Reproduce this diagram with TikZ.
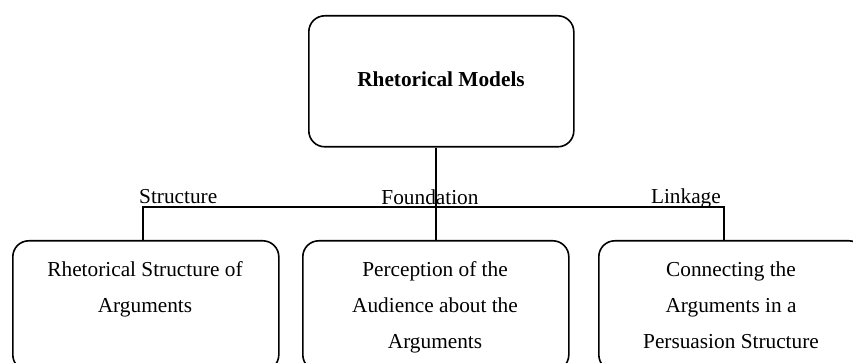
\documentclass[tikz,border=0pt]{standalone}
\usepackage{fontspec}
\setmainfont{Liberation Serif}
\begin{document}
\begin{tikzpicture}[x=1pt,y=-1pt,
  box/.style={draw, line width=1.6pt, rounded corners=16pt, inner sep=0pt, anchor=north west},
  lbl/.style={inner sep=0pt, font=\fontsize{21.3}{36}\selectfont},
  txt/.style={inner sep=0pt, align=center, anchor=base, font=\fontsize{21.3}{36}\selectfont},
  link/.style={line width=1.5pt}]
\useasboundingbox (0,0) rectangle (853,363);
\clip (0,0) rectangle (853,363);
% root box
\node[box, minimum width=265pt, minimum height=131pt] (T) at (308,15) {};
\node[lbl, font=\fontsize{21.3}{26}\selectfont\bfseries, anchor=base] (Tt) at (441,87) {Rhetorical Models};
% child boxes (their lower edges run past the bottom border)
\node[box, minimum width=266pt, minimum height=130pt] (L) at (12,240) {};
\node[box, minimum width=266pt, minimum height=130pt] (M) at (302,240) {};
\node[box, minimum width=266pt, minimum height=130pt] (R) at (598,240) {};
% multi-line texts are placed by the baseline of their last line
\node[txt] (Lt) at (145,312) {Rhetorical Structure of\\Arguments};
\node[txt] (Mt) at (435,348) {Perception of the\\Audience about the\\Arguments};
\node[txt] (Rt) at (731,348) {Connecting the\\Arguments in a\\Persuasion Structure};
% connectors
\coordinate (jl) at (143,207);
\coordinate (jr) at (724,207);
\draw[link] (T.south -| M.north) -- (M.north);
\draw[link] (L.north -| jl) -- (jl) -- (jr) -- (R.north -| jr);
% branch labels
\node[lbl, anchor=base west] (s) at (139,204) {Structure};
\node[lbl, anchor=base] (f) at (430,205) {Foundation};
\node[lbl, anchor=base east] (k) at (721,204) {Linkage};
\end{tikzpicture}
\end{document}
